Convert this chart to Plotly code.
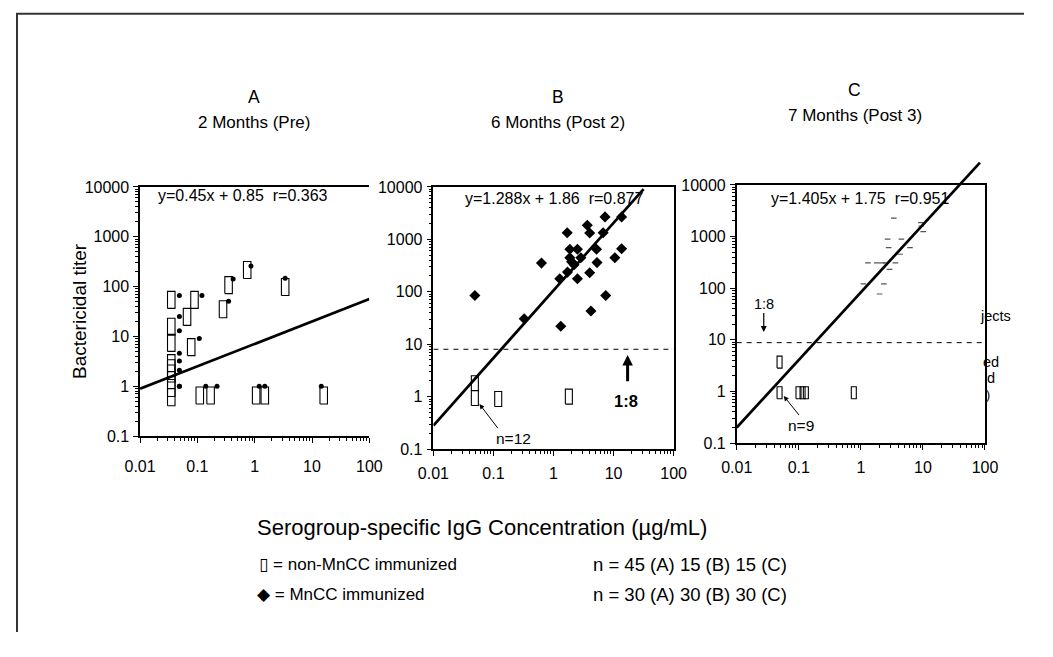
import plotly.graph_objects as go

# Figure size kept so that the page (with its 8px body margin) is 1053x657.
W, H = 1037, 641
# Measured mapping from figure pixels to the photographed picture:
#   picture = S * (figure + D)   -> positions below are given in picture pixels.
SX, SY = 0.971, 0.973
DX, DY = 15.5, 8.4
FONT = "Liberation Sans, Arial, DejaVu Sans, sans-serif"

# ---------------- data ----------------
X_TICKS = [0.01, 0.1, 1, 10, 100]
X_TICK_TEXT = ["0.01", "0.1", "1", "10", "100"]
Y_TICKS = [0.1, 1, 10, 100, 1000, 10000]
Y_TICK_TEXT = ["0.1", "1", "10", "100", "1000", "10000"]

# Panel A (2 months, pre)
A_non_x = [0.035, 0.035, 0.035, 0.035, 0.035, 0.035, 0.035, 0.035, 0.035,
           0.066, 0.089, 0.078, 0.28, 0.35, 0.74, 3.4, 0.11, 0.17, 1.06, 1.5, 16]
A_non_y = [54, 15.6, 7.4, 2.9, 2.3, 1.8, 1.33, 0.92, 0.6,
           24.6, 54, 6.1, 35, 107, 215, 98, 0.65, 0.65, 0.65, 0.65, 0.65]
A_mn_x = [0.0485, 0.0485, 0.0485, 0.0485, 0.0485, 0.0485, 0.0485, 0.0485,
          0.12, 0.108, 0.35, 0.42, 0.86, 3.4, 0.14, 0.22, 1.2, 1.5, 14.5]
A_mn_y = [66, 25, 12.9, 4.6, 3.2, 2.1, 1, 1,
          66, 9.1, 51, 142, 258, 147, 1, 1, 1, 1, 1]
A_fit_x = [0.01, 100]
A_fit_y = [0.89, 56]

# Panel B (6 months, post 2)
B_non_x = [0.049, 0.049, 0.12, 1.8]
B_non_y = [1.8, 0.94, 0.9, 1.0]
B_mn_x = [0.049, 0.325, 0.63, 1.32, 1.27, 1.69, 1.87, 1.87, 2.0, 1.71, 2.5, 2.5, 2.85,
          3.65, 4.0, 4.0, 4.2, 5.2, 5.3, 7.2, 6.7, 7.4, 10.5, 13.6, 13.6, 2.2]
B_mn_y = [85, 30.5, 352, 22, 177, 1340, 645, 447, 373, 237, 645, 177, 447,
          1850, 1320, 230, 43, 645, 360, 2680, 1340, 85, 447, 2680, 660, 328]
B_fit_x = [0.01, 31.6]
B_fit_y = [0.28, 9100]
B_cut_x = [0.01, 100]
B_cut_y = [8, 8]

# Panel C (7 months, post 3)
C_non_x = [0.049, 0.049, 0.099, 0.115, 0.13, 0.77]
C_non_y = [3.7, 0.94, 0.94, 0.94, 0.94, 0.94]
C_mn_x = [3.4, 9.3, 9.4, 10.1, 2.7, 4.5, 6.2, 2.8, 4.3, 1.3, 1.8, 2.2, 2.5, 3.6,
          2.9, 1.1, 2.35, 2.0]
C_mn_y = [2270, 1860, 1600, 1245, 890, 890, 610, 610, 454, 310, 310, 310, 310, 310,
          232, 121, 121, 77]
C_fit_x = [0.01, 83]
C_fit_y = [0.2, 27000]
C_cut_x = [0.01, 100]
C_cut_y = [8.8, 8.8]

# ---------------- layout geometry (picture pixels) ----------------
PANELS = {
    "A": dict(x0=139, x1=368, y0=187, y1=436),
    "B": dict(x0=432, x1=672, y0=187, y1=449),
    "C": dict(x0=735, x1=983, y0=185, y1=443),
}
C_EXT_TOP = 150  # hidden extended area so the panel C fit line can overshoot the frame


def fx(px):
    return (px / SX - DX) / W


def fy(py):
    return 1 - (py / SY - DY) / H


def dom_x(p):
    return [fx(p["x0"]), fx(p["x1"])]


def dom_y(p, top=None):
    t = p["y0"] if top is None else top
    return [fy(p["y1"]), fy(t)]


def decades(p):
    return (p["x1"] - p["x0"]) / 4.0, (p["y1"] - p["y0"]) / 5.0


def rect_path(xs, ys, wpx, hpx, p):
    dx, dy = decades(p)
    kx = 10 ** (wpx / 2 / dx)
    ky = 10 ** (hpx / 2 / dy)
    px, py = [], []
    for x, y in zip(xs, ys):
        px += [x / kx, x * kx, x * kx, x / kx, x / kx, None]
        py += [y / ky, y / ky, y * ky, y * ky, y / ky, None]
    return px, py


minor_vals_x = [m * 10 ** e for e in range(-2, 2) for m in range(2, 10)]
minor_vals_y = [m * 10 ** e for e in range(-1, 4) for m in range(2, 10)]

TICKFONT = dict(family=FONT, size=16, color="black")


def xaxis(p, anchor, mirror=True, standoff=4):
    return dict(type="log", range=[-2, 2], domain=dom_x(p), anchor=anchor,
                showline=True, linecolor="black", linewidth=1.5, mirror=mirror,
                ticks="outside", ticklen=5, tickwidth=1.2, tickcolor="black",
                tickmode="array", tickvals=X_TICKS, ticktext=X_TICK_TEXT,
                tickfont=TICKFONT, ticklabelstandoff=standoff,
                showgrid=False, zeroline=False, fixedrange=True,
                minor=dict(ticks="outside", ticklen=3, tickwidth=1, tickcolor="black",
                           tickmode="array", tickvals=minor_vals_x, showgrid=False))


def yaxis(p, anchor, mirror=True):
    return dict(type="log", range=[-1, 4], domain=dom_y(p), anchor=anchor,
                showline=True, linecolor="black", linewidth=1.5, mirror=mirror,
                ticks="outside", ticklen=5, tickwidth=1.2, tickcolor="black",
                tickmode="array", tickvals=Y_TICKS, ticktext=Y_TICK_TEXT,
                tickfont=TICKFONT, ticklabelstandoff=1,
                showgrid=False, zeroline=False, fixedrange=True,
                minor=dict(ticks="outside", ticklen=3, tickwidth=1, tickcolor="black",
                           tickmode="array", tickvals=minor_vals_y, showgrid=False))


fig = go.Figure()

line_style = dict(color="black", width=2.7)
rect_style = dict(color="black", width=1.1)

# ---- Panel A
pA = PANELS["A"]
rx, ry = rect_path(A_non_x, A_non_y, 7.5, 17, pA)
fig.add_trace(go.Scatter(x=A_fit_x, y=A_fit_y, mode="lines", line=line_style,
                         xaxis="x", yaxis="y", hoverinfo="skip"))
fig.add_trace(go.Scatter(x=rx, y=ry, mode="lines", line=rect_style,
                         xaxis="x", yaxis="y", hoverinfo="skip"))
fig.add_trace(go.Scatter(x=A_mn_x, y=A_mn_y, mode="markers",
                         marker=dict(symbol="circle", size=5, color="black"),
                         xaxis="x", yaxis="y"))

# ---- Panel B
pB = PANELS["B"]
rx, ry = rect_path(B_non_x, B_non_y, 7, 15, pB)
fig.add_trace(go.Scatter(x=B_cut_x, y=B_cut_y, mode="lines",
                         line=dict(color="black", width=1, dash="5px,5px"),
                         xaxis="x2", yaxis="y2", hoverinfo="skip"))
fig.add_trace(go.Scatter(x=rx, y=ry, mode="lines", line=rect_style,
                         xaxis="x2", yaxis="y2", hoverinfo="skip"))
fig.add_trace(go.Scatter(x=B_fit_x, y=B_fit_y, mode="lines", line=line_style,
                         xaxis="x2", yaxis="y2", hoverinfo="skip"))
fig.add_trace(go.Scatter(x=B_mn_x, y=B_mn_y, mode="markers",
                         marker=dict(symbol="diamond", size=8.5, color="black"),
                         xaxis="x2", yaxis="y2"))

# ---- Panel C
pC = PANELS["C"]
rx, ry = rect_path(C_non_x, C_non_y, 5, 12, pC)
fig.add_trace(go.Scatter(x=C_cut_x, y=C_cut_y, mode="lines",
                         line=dict(color="black", width=1, dash="5px,5px"),
                         xaxis="x3", yaxis="y3", hoverinfo="skip"))
fig.add_trace(go.Scatter(x=rx, y=ry, mode="lines", line=rect_style,
                         xaxis="x3", yaxis="y3", hoverinfo="skip"))
fig.add_trace(go.Scatter(x=C_mn_x, y=C_mn_y, mode="markers",
                         marker=dict(symbol="line-ew", size=4,
                                     line=dict(color="#555555", width=1.2)),
                         xaxis="x3", yaxis="y3"))
fig.add_trace(go.Scatter(x=C_fit_x, y=C_fit_y, mode="lines", line=line_style,
                         xaxis="x4", yaxis="y4", hoverinfo="skip"))

dxC, dyC = decades(pC)
ext_top_log = 4 + (pC["y0"] - C_EXT_TOP) / dyC

layout = dict(
    width=W, height=H, margin=dict(l=0, r=0, t=0, b=0),
    paper_bgcolor="white", plot_bgcolor="rgba(0,0,0,0)",
    showlegend=False,
    xaxis=xaxis(pA, "y", mirror=True, standoff=10),
    yaxis=yaxis(pA, "x", mirror=False),
    xaxis2=xaxis(pB, "y2"),
    yaxis2=yaxis(pB, "x2"),
    xaxis3=xaxis(pC, "y3"),
    yaxis3=yaxis(pC, "x3"),
    xaxis4=dict(type="log", range=[-2, 2], domain=dom_x(pC), anchor="y4",
                visible=False, fixedrange=True),
    yaxis4=dict(type="log", range=[-1, ext_top_log], domain=dom_y(pC, C_EXT_TOP),
                anchor="x4", visible=False, fixedrange=True),
)
fig.update_layout(**layout)


def ann(text, px, py, size, xanchor="center", **kw):
    return dict(text=text, x=fx(px), y=fy(py), xref="paper", yref="paper",
                showarrow=False, xanchor=xanchor, yanchor="middle",
                font=dict(family=FONT, size=size, color="black"), **kw)


def arrow(hx, hy, tx, ty, width=1.0, head=2, size=1.0):
    return dict(text="", x=fx(hx), y=fy(hy), ax=(tx - hx) / SX, ay=(ty - hy) / SY,
                xref="paper", yref="paper", axref="pixel", ayref="pixel",
                showarrow=True, arrowhead=head, arrowsize=size, arrowwidth=width,
                arrowcolor="black")


SP2 = " \u00a0"
annotations = [
    # panel titles
    ann("A", 253, 97, 17.5), ann("2 Months (Pre)", 253, 123, 17),
    ann("B", 556, 97, 17.5), ann("6 Months (Post 2)", 556, 123, 17),
    ann("C", 853, 90, 17.5), ann("7 Months (Post 3)", 853, 116, 17),
    # equations
    ann("y=0.45x + 0.85" + SP2 + "r=0.363", 242, 196, 16),
    ann("y=1.288x + 1.86" + SP2 + "r=0.877", 552, 199, 16),
    ann("y=1.405x + 1.75" + SP2 + "r=0.951", 858, 199, 16),
    # axis titles
    ann("Bactericidal titer", 79, 311, 19, textangle=-90),
    ann("Serogroup-specific IgG Concentration (µg/mL)", 481, 527, 22),
    # legend
    ann("▯ = non-MnCC immunized", 256, 564, 17, xanchor="left"),
    ann("n = 45 (A) 15 (B) 15 (C)", 589, 564, 18.5, xanchor="left"),
    ann("◆ = MnCC immunized", 254, 594, 17, xanchor="left"),
    ann("n = 30 (A) 30 (B) 30 (C)", 589, 594, 18.5, xanchor="left"),
    # panel B notes
    ann("n=12", 512, 438, 15.5),
    arrow(478, 404, 497, 429),
    ann("<b>1:8</b>", 624, 401, 16.5),
    arrow(626, 355, 626, 382, width=3, head=2, size=0.7),
    # panel C notes
    ann("1:8", 762, 304, 14.5),
    arrow(762, 332, 762, 312, width=1.2, head=2, size=1),
    ann("n=9", 799, 425, 15.5),
    arrow(782, 396, 798, 416),
    # clipped leftover text at the right of panel C
    ann("jects", 976, 316, 14.5, xanchor="left"),
    ann("ed", 979, 362, 14.5, xanchor="left"),
    ann("d", 983, 378, 14.5, xanchor="left"),
    ann(")", 982, 395, 12.5, xanchor="left"),
]
fig.update_layout(annotations=annotations)

# outer frame of the figure
fig.update_layout(shapes=[
    dict(type="line", xref="paper", yref="paper", x0=0, x1=1.0,
         y0=fy(14), y1=fy(14), line=dict(color="#333333", width=2)),
    dict(type="line", xref="paper", yref="paper", x0=0.001, x1=0.001,
         y0=0, y1=fy(14), line=dict(color="#333333", width=2)),
])

fig.write_html("out.html")
